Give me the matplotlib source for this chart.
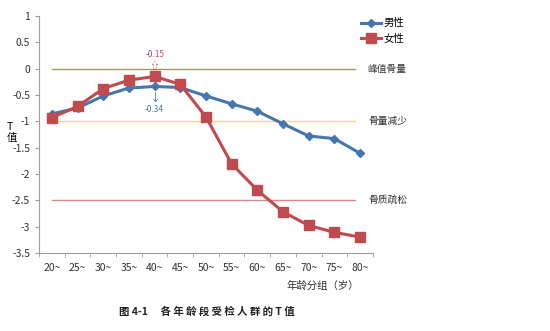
import numpy as np
import matplotlib.pyplot as plt

plt.rcParams['font.family'] = ['Noto Sans CJK SC', 'DejaVu Sans']

ages = ["20~", "25~", "30~", "35~", "40~", "45~", "50~", "55~", "60~", "65~", "70~", "75~", "80~"]
male = [-0.86, -0.75, -0.52, -0.37, -0.34, -0.36, -0.52, -0.67, -0.81, -1.05, -1.28, -1.33, -1.61]
female = [-0.93, -0.72, -0.38, -0.22, -0.15, -0.30, -0.92, -1.81, -2.31, -2.72, -2.98, -3.11, -3.20]
ref_vals = [0, -1, -2.5]
ref_names = ["峰值骨量", "骨量减少", "骨质疏松"]
ref_colors = ["#a0a05c", "#f6d77a", "#d98a8e"]

fig = plt.figure(figsize=(5.5, 3.31), dpi=100)
ax = fig.add_axes([0.071, 0.236, 0.607, 0.716])

x = np.arange(len(ages))
for v, c in zip(ref_vals, ref_colors):
    ax.plot([x[0], x[-1] - 0.2], [v, v], color=c, lw=1.0, zorder=1)

ax.plot(x, male, color="#4576b0", lw=2.2, marker="D", ms=4.5, label="男性", zorder=3)
ax.plot(x, female, color="#c04a4d", lw=2.2, marker="s", ms=7, label="女性", zorder=4)

for v, n in zip(ref_vals, ref_names):
    ax.text(x[-1] + 0.3, v, n, fontsize=7, va="center", ha="left", color="#333333")

# annotations at the 40~ group
ax.text(4, 0.26, "-0.15", fontsize=6, color="#c04a4d", ha="center", va="center")
ax.text(4, 0.05, "⇧", fontsize=7, color="#c04a4d", ha="center", va="center")
ax.text(4, -0.56, "↓", fontsize=8, color="#4576b0", ha="center", va="center")
ax.text(4, -0.78, "-0.34", fontsize=6, color="#4576b0", ha="center", va="center")

ax.set_xlim(-0.5, len(ages) - 0.5)
ax.set_ylim(-3.5, 1)
ax.set_yticks(np.arange(-3.5, 1.01, 0.5))
ax.set_yticklabels(["-3.5", "-3", "-2.5", "-2", "-1.5", "-1", "-0.5", "0", "0.5", "1"])
ax.set_xticks(x)
ax.set_xticklabels(ages)
ax.set_xticks(np.arange(-0.5, len(ages), 1), minor=True)
ax.tick_params(axis="x", which="major", length=0, labelsize=7.5, pad=7, colors="#333333")
ax.tick_params(axis="x", which="minor", length=3, color="#a0a0a0")
ax.tick_params(axis="y", length=3, color="#a0a0a0", labelsize=7.5, labelcolor="#333333")
for s in ["top", "right"]:
    ax.spines[s].set_visible(False)
for s in ["left", "bottom"]:
    ax.spines[s].set_color("#a0a0a0")

leg = ax.legend(loc="upper left", bbox_to_anchor=(0.935, 1.03), frameon=False, fontsize=7.5,
                handlelength=2.0, labelspacing=0.55, handletextpad=0.2)

fig.text(0.012, 0.6, "T\n值", fontsize=7.5, ha="left", va="center", linespacing=1.2)
fig.text(0.587, 0.138, "年龄分组（岁）", fontsize=7.5, ha="center", va="center", color="#333333")
fig.text(0.376, 0.06, "图 4-1　 各 年 龄 段 受 检 人 群 的 T 值", fontsize=7.5, ha="center", va="center",
         fontweight="bold", color="#222222")

fig.savefig("out.png", dpi=100)
